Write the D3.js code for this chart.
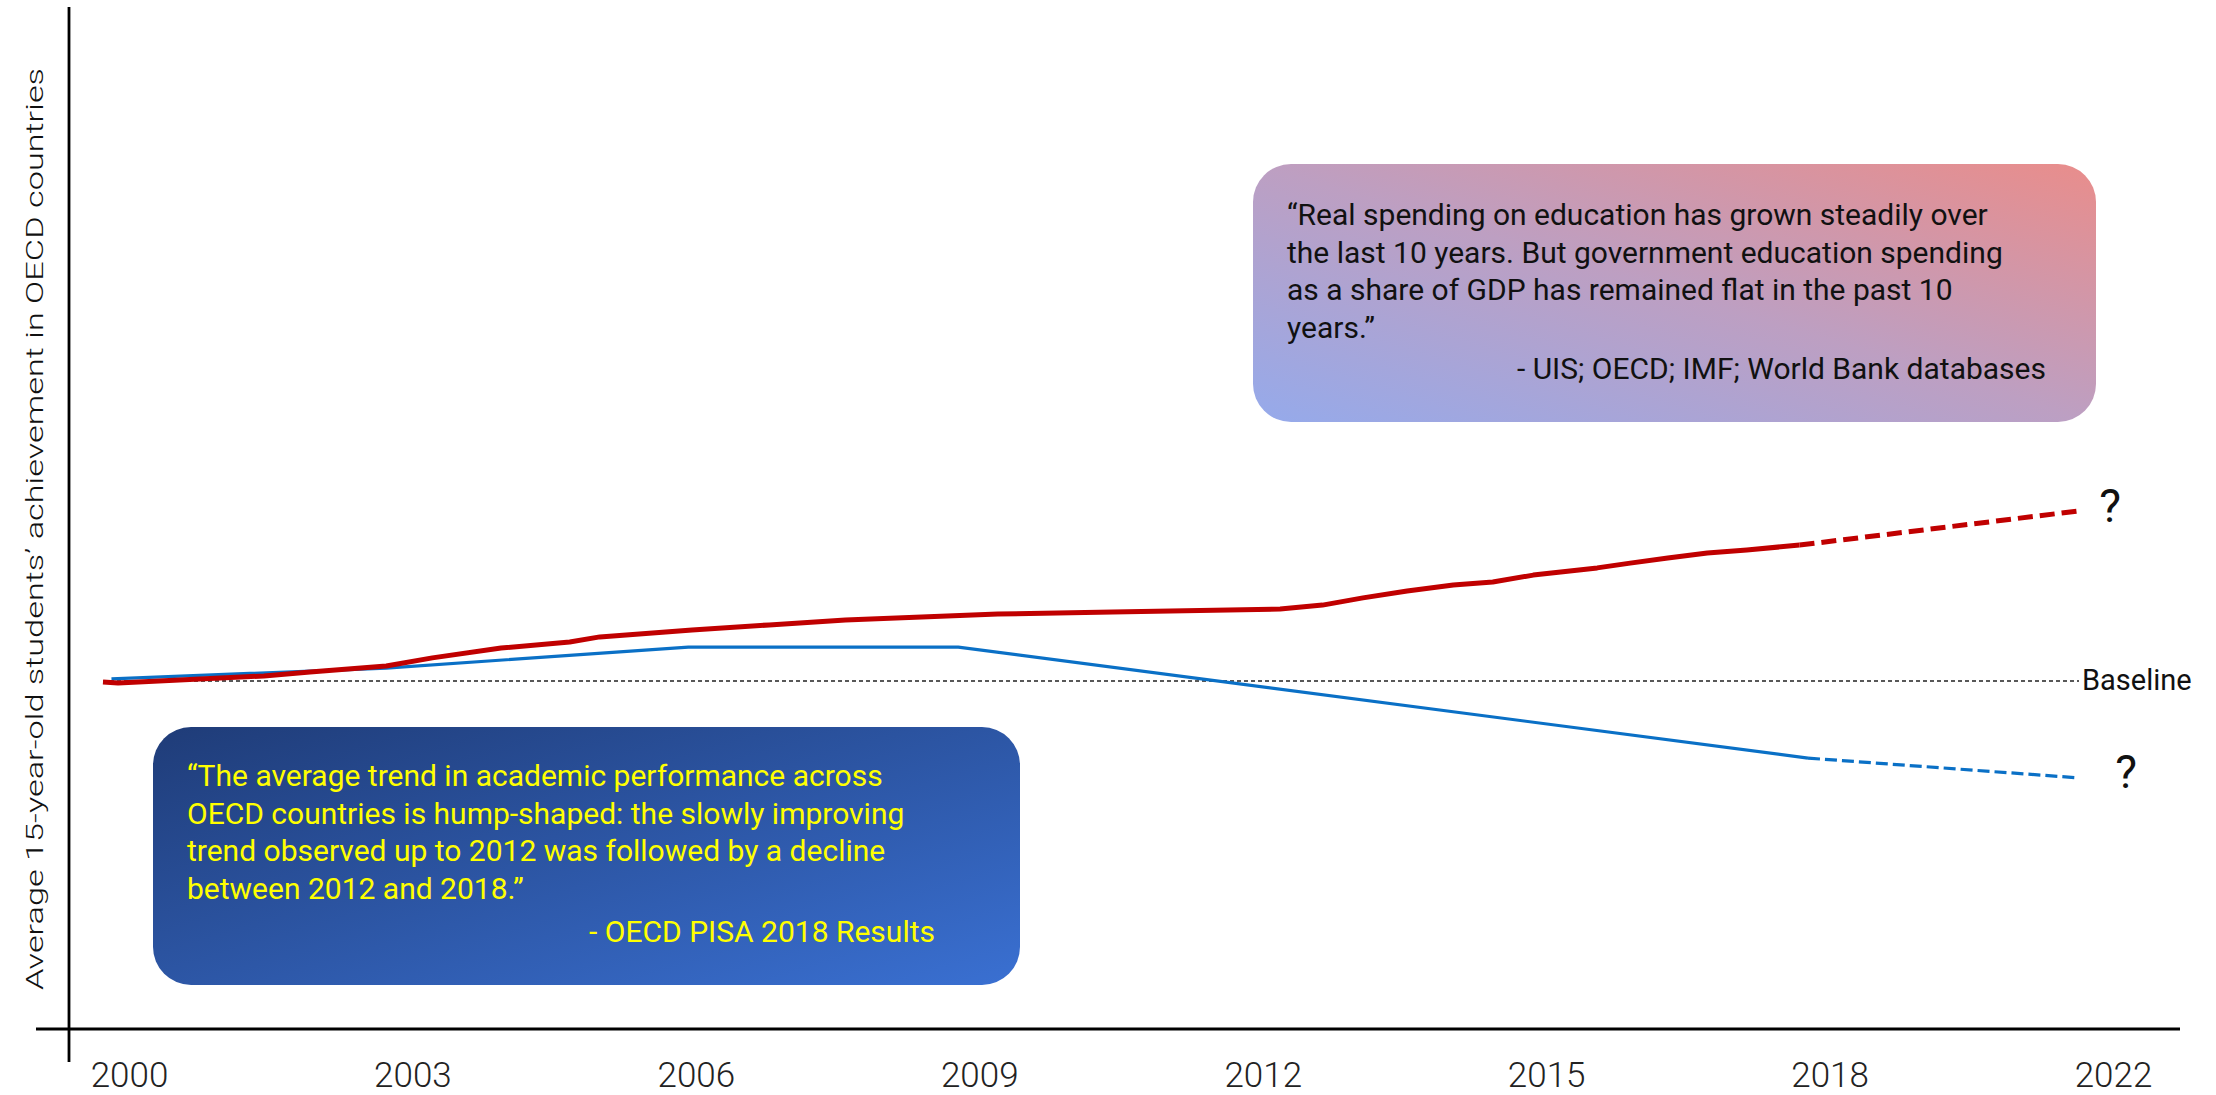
<!DOCTYPE html>
<html>
<head>
<meta charset="utf-8">
<script src="https://cdn.jsdelivr.net/npm/d3@7"></script>
<style>
  body { margin: 0; background: #fff; }
  svg { display: block; font-family: Roboto, "Noto Sans", sans-serif; }
  .tick text { font-family: "Roboto Light", Roboto, sans-serif; font-size: 35px; font-weight: 300; fill: #222; }
  .y-label { font-family: "Roboto Light", Roboto, sans-serif; font-size: 23px; font-weight: 300; fill: #111; }
  .quote { font-size: 30px; }
  .baseline-label { font-size: 29px; fill: #111; }
  .unknown { font-size: 46px; fill: #111; }
</style>
</head>
<body>
<div class="wrapper"></div>
<script>
// x labels on the axis (evenly spaced, not to scale)
const tickLabels = ["2000", "2003", "2006", "2009", "2012", "2015", "2018", "2022"]

// red line: education spending (relative to baseline)
const spendingYears = [2000.0, 2000.16, 2001.71, 2002.2, 2003.01, 2003.5, 2004.23, 2004.96, 2005.28,
    2006.26, 2007.08, 2007.89, 2008.7, 2009.51, 2010.73, 2012.51, 2012.96, 2013.39, 2013.86,
    2014.35, 2014.77, 2015.2, 2015.88, 2016.23, 2016.63, 2017.05, 2017.47, 2018.03]
const spendingValues = [-0.3, -0.7, 1.7, 3, 5, 7.7, 11, 13, 14.7,
    17, 18.7, 20.3, 21.3, 22.3, 23, 24, 25.3, 27.7, 30,
    32, 33, 35.3, 37.7, 39.3, 41, 42.7, 43.7, 45.3]
const spendingProjYears = [2018.03, 2021]
const spendingProjValues = [45.3, 56.7]

// blue line: student achievement (relative to baseline)
const achievementYears = [2000.09, 2003.01, 2006.22, 2009.09, 2018.12]
const achievementValues = [0.7, 4.3, 11.3, 11.3, -25.7]
const achievementProjYears = [2018.12, 2021]
const achievementProjValues = [-25.7, -32.3]

const baselineValue = 0

const topQuoteLines = [
    "\u201CReal spending on education has grown steadily over",
    "the last 10 years. But government education spending",
    "as a share of GDP has remained flat in the past 10",
    "years.\u201D",
]
const topQuoteSource = "- UIS; OECD; IMF; World Bank databases"

const bottomQuoteLines = [
    "\u201CThe average trend in academic performance across",
    "OECD countries is hump-shaped: the slowly improving",
    "trend observed up to 2012 was followed by a decline",
    "between 2012 and 2018.\u201D",
]
const bottomQuoteSource = "- OECD PISA 2018 Results"

const yAxisLabel = "Average 15-year-old students\u2019 achievement in OECD countries"

function drawChart() {
    const zip = (xs, vs) => xs.map((year, i) => ({year, value: vs[i]}))

    let dimensions = {
        width: 2216,
        height: 1095,
        axisX: 69,
        axisY: 1029,
    }

    const wrapper = d3.select(".wrapper")
        .append("svg")
        .attr("width", dimensions.width)
        .attr("height", dimensions.height)

    const xScale = d3.scaleLinear()
        .domain([2000, 2021])
        .range([103, 2079])

    const yScale = d3.scaleLinear()
        .domain([-100, 100])
        .range([981, 381])

    const tickScale = d3.scalePoint()
        .domain(tickLabels)
        .range([129, 2113])

    const lineGenerator = d3.line()
        .x(d => xScale(d.year))
        .y(d => yScale(d.value))

    // gradients for the quote boxes
    const defs = wrapper.append("defs")
    const topGradient = defs.append("linearGradient")
        .attr("id", "top-gradient")
        .attr("x1", 0).attr("y1", 1).attr("x2", 1).attr("y2", 0)
    topGradient.append("stop").attr("offset", "0%").attr("stop-color", "#95aaeb")
    topGradient.append("stop").attr("offset", "50%").attr("stop-color", "#bd9fc2")
    topGradient.append("stop").attr("offset", "100%").attr("stop-color", "#e98d8b")

    const bottomGradient = defs.append("linearGradient")
        .attr("id", "bottom-gradient")
        .attr("x1", 0).attr("y1", 0).attr("x2", 1).attr("y2", 1)
    bottomGradient.append("stop").attr("offset", "0%").attr("stop-color", "#1f3c78")
    bottomGradient.append("stop").attr("offset", "100%").attr("stop-color", "#3a70d2")

    // axes
    wrapper.append("line")
        .attr("x1", dimensions.axisX).attr("x2", dimensions.axisX)
        .attr("y1", 7).attr("y2", 1062)
        .attr("stroke", "#000")
        .attr("stroke-width", 2.8)

    wrapper.append("line")
        .attr("x1", 36).attr("x2", 2180)
        .attr("y1", dimensions.axisY).attr("y2", dimensions.axisY)
        .attr("stroke", "#000")
        .attr("stroke-width", 2.8)

    const xAxis = wrapper.append("g")
        .attr("transform", `translate(0, ${dimensions.axisY})`)
        .call(d3.axisBottom(tickScale).tickSize(0).tickPadding(33))
    xAxis.select(".domain").remove()
    xAxis.selectAll("text").attr("font-family", null).attr("font-size", null)

    wrapper.append("text")
        .attr("class", "y-label")
        .attr("transform", `translate(43, 529) rotate(-90)`)
        .attr("text-anchor", "middle")
        .attr("textLength", 922)
        .attr("lengthAdjust", "spacingAndGlyphs")
        .text(yAxisLabel)

    // baseline
    wrapper.append("line")
        .attr("x1", xScale(2000)).attr("x2", xScale(2021))
        .attr("y1", yScale(baselineValue)).attr("y2", yScale(baselineValue))
        .attr("stroke", "#222")
        .attr("stroke-width", 1.5)
        .attr("stroke-dasharray", "4,3")

    wrapper.append("text")
        .attr("class", "baseline-label")
        .attr("x", xScale(2021) + 3)
        .attr("y", yScale(baselineValue) + 9)
        .text("Baseline")

    // lines
    wrapper.append("path")
        .attr("d", lineGenerator(zip(achievementYears, achievementValues)))
        .attr("fill", "none")
        .attr("stroke", "#0a70c6")
        .attr("stroke-width", 3.2)

    wrapper.append("path")
        .attr("d", lineGenerator(zip(achievementProjYears, achievementProjValues)))
        .attr("fill", "none")
        .attr("stroke", "#0a70c6")
        .attr("stroke-width", 3.2)
        .attr("stroke-dasharray", "12,5")

    wrapper.append("path")
        .attr("d", lineGenerator(zip(spendingYears, spendingValues)))
        .attr("fill", "none")
        .attr("stroke", "#c00000")
        .attr("stroke-width", 5)
        .attr("stroke-linejoin", "round")

    wrapper.append("path")
        .attr("d", lineGenerator(zip(spendingProjYears, spendingProjValues)))
        .attr("fill", "none")
        .attr("stroke", "#c00000")
        .attr("stroke-width", 5)
        .attr("stroke-dasharray", "15,7")

    wrapper.append("text")
        .attr("class", "unknown")
        .attr("x", xScale(2021) + 31)
        .attr("y", yScale(spendingProjValues[1]) + 11)
        .attr("text-anchor", "middle")
        .text("?")

    wrapper.append("text")
        .attr("class", "unknown")
        .attr("x", xScale(2021) + 47)
        .attr("y", yScale(achievementProjValues[1]) + 10)
        .attr("text-anchor", "middle")
        .text("?")

    // quote boxes
    const drawQuote = (box, lines, source, fill, color) => {
        const group = wrapper.append("g")
        group.append("rect")
            .attr("x", box.x).attr("y", box.y)
            .attr("width", box.width).attr("height", box.height)
            .attr("rx", 38).attr("ry", 38)
            .attr("fill", fill)
        group.selectAll(".line")
            .data(lines)
            .enter().append("text")
            .attr("class", "quote")
            .attr("x", box.textX)
            .attr("y", (d, i) => box.firstBaseline + i * 37.5)
            .attr("fill", color)
            .text(d => d)
        group.append("text")
            .attr("class", "quote")
            .attr("x", box.sourceRight)
            .attr("y", box.sourceBaseline)
            .attr("text-anchor", "end")
            .attr("fill", color)
            .text(source)
    }

    drawQuote({x: 1253, y: 164, width: 843, height: 258, textX: 1287, firstBaseline: 225,
        sourceRight: 2046, sourceBaseline: 379},
        topQuoteLines, topQuoteSource, "url(#top-gradient)", "#111")

    drawQuote({x: 153, y: 727, width: 867, height: 258, textX: 187, firstBaseline: 786,
        sourceRight: 935, sourceBaseline: 942},
        bottomQuoteLines, bottomQuoteSource, "url(#bottom-gradient)", "#ffff00")
}

drawChart()
</script>
</body>
</html>
